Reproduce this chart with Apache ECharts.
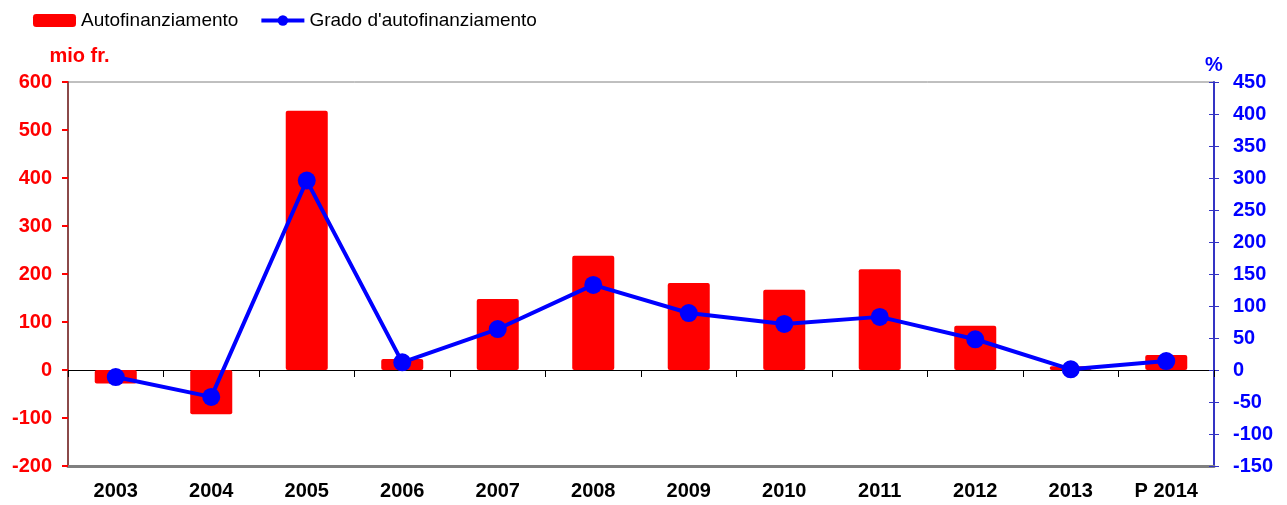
<!DOCTYPE html>
<html>
<head>
<meta charset="utf-8">
<script src="https://cdn.jsdelivr.net/npm/echarts@6/dist/echarts.min.js"></script>
<style>
  html, body { margin: 0; padding: 0; background: #fff; }
  #chart { width: 1287px; height: 505px; }
</style>
</head>
<body>
<div id="chart"></div>
<script>
var anni = ['2003', '2004', '2005', '2006', '2007', '2008', '2009', '2010', '2011', '2012', '2013', 'P 2014'];
// mio fr.
var autofinanziamento = [-28, -92, 540, 23, 148, 238, 181, 167, 210, 92, 8, 31];
// %
var gradoAutofin = [-11, -42, 296, 12, 64, 133, 89, 72, 83, 48, 1, 14];

var fontName = '"Liberation Sans", Arial, sans-serif';

var myChart = echarts.init(document.getElementById('chart'));

var option = {
    backgroundColor: '#fff',
    animation: false,
    legend: {
        left: 28,
        top: 6,
        itemGap: 21,
        itemWidth: 43,
        itemHeight: 13,
        textStyle: { fontFamily: fontName, fontSize: 19, color: '#000' },
        data: [
            { name: 'Autofinanziamento' },
            { name: "Grado d'autofinanziamento", lineStyle: { width: 4 } }
        ]
    },
    grid: {
        left: 68,
        right: 73,
        top: 82,
        bottom: 39,
        show: true,
        borderColor: '#808080',
        borderWidth: 1
    },
    xAxis: [
        {
            type: 'category',
            data: anni,
            axisLine: { onZero: true, lineStyle: { color: '#000', width: 1 } },
            axisTick: { show: true, inside: false, length: 7, lineStyle: { color: '#000' } },
            axisLabel: { show: false }
        },
        {
            type: 'category',
            data: anni,
            position: 'bottom',
            axisLine: { onZero: false, lineStyle: { color: '#808080', width: 3 } },
            axisTick: { show: false },
            axisLabel: {
                margin: 15,
                fontFamily: fontName, fontSize: 20, fontWeight: 'bold', color: '#000'
            }
        }
    ],
    yAxis: [
        {
            type: 'value',
            min: -200,
            max: 600,
            interval: 100,
            name: 'mio fr.',
            nameGap: 16,
            nameTextStyle: {
                fontFamily: fontName, fontSize: 20, fontWeight: 'bold', color: '#ff0000',
                align: 'center', padding: [0, 0, 0, 23]
            },
            axisLine: { show: true, lineStyle: { color: '#8b4a4a', width: 2 } },
            axisTick: { show: true, length: 6, lineStyle: { color: '#ff0000', width: 2 } },
            splitLine: { show: false },
            axisLabel: {
                margin: 16,
                fontFamily: fontName, fontSize: 20, fontWeight: 'bold', color: '#ff0000'
            }
        },
        {
            type: 'value',
            min: -150,
            max: 450,
            interval: 50,
            position: 'right',
            name: '%',
            nameGap: 7,
            nameTextStyle: {
                fontFamily: fontName, fontSize: 20, fontWeight: 'bold', color: '#0000ff',
                align: 'center'
            },
            axisLine: { show: true, lineStyle: { color: '#3434c4', width: 2 } },
            axisTick: { show: true, length: 5, inside: true, lineStyle: { color: '#3434c4', width: 1 } },
            splitLine: { show: false },
            axisLabel: {
                margin: 19,
                fontFamily: fontName, fontSize: 20, fontWeight: 'bold', color: '#0000ff'
            }
        },
        {
            // outer half of the crossing ticks on the % axis
            type: 'value',
            min: -150,
            max: 450,
            interval: 50,
            position: 'right',
            axisLine: { show: false },
            axisTick: { show: true, length: 5, inside: false, lineStyle: { color: '#3434c4', width: 1 } },
            splitLine: { show: false },
            axisLabel: { show: false }
        }
    ],
    series: [
        {
            name: 'Autofinanziamento',
            type: 'bar',
            xAxisIndex: 0,
            yAxisIndex: 0,
            barWidth: '44%',
            itemStyle: { color: '#ff0000', borderRadius: 2 },
            data: autofinanziamento,
            z: 2
        },
        {
            name: "Grado d'autofinanziamento",
            type: 'line',
            xAxisIndex: 0,
            yAxisIndex: 1,
            symbol: 'circle',
            symbolSize: 18,
            lineStyle: { color: '#0000ff', width: 4 },
            itemStyle: { color: '#0000ff' },
            data: gradoAutofin,
            z: 5
        }
    ]
};

myChart.setOption(option);
</script>
</body>
</html>
